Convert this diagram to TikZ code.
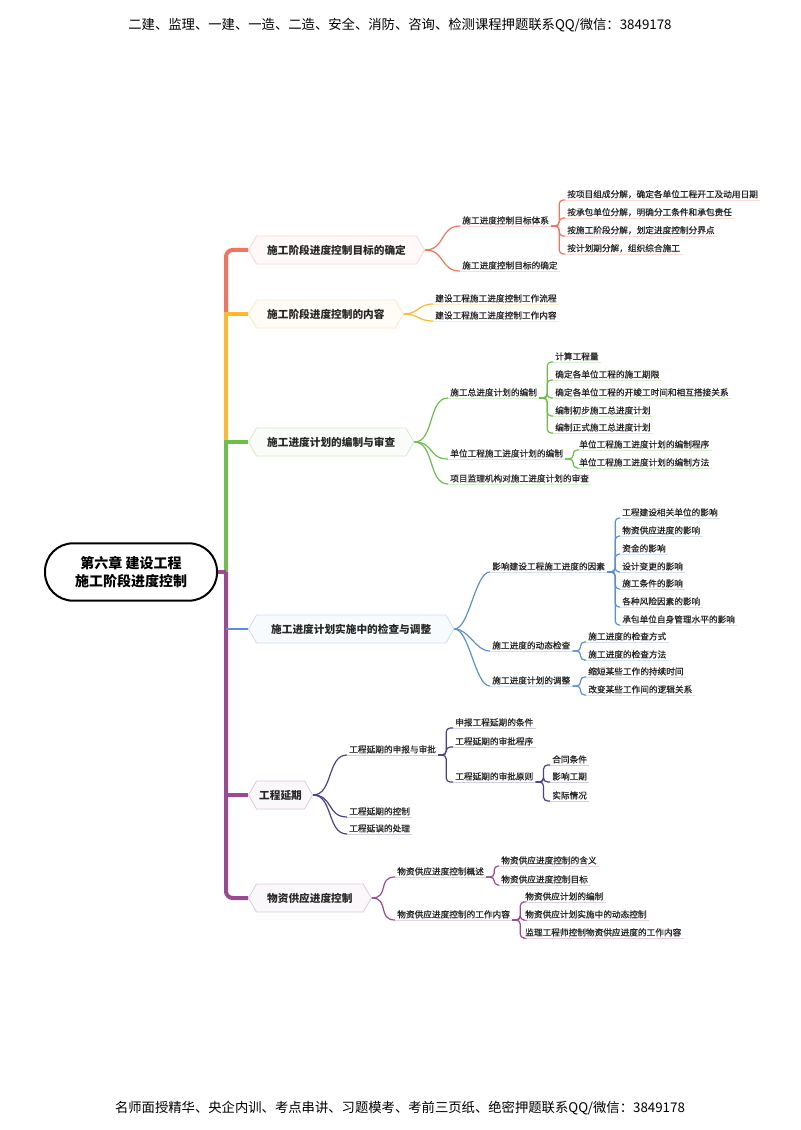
\documentclass[tikz,border=0pt]{standalone}
\usepackage{fontspec}
\setmainfont{Noto Sans CJK SC}
\newfontfamily\leaffont[FakeBold=0.6]{Noto Sans CJK SC}
\usetikzlibrary{shapes.symbols,calc}
\definecolor{cRed}{HTML}{F4735F}
\definecolor{cOrange}{HTML}{FDB92B}
\definecolor{cGreen}{HTML}{6CBF48}
\definecolor{cBlue}{HTML}{5C8FD5}
\definecolor{cIndigo}{HTML}{4D3F8F}
\definecolor{cPurple}{HTML}{9A4A91}

\begin{document}
\begin{tikzpicture}[x=0.75pt, y=-0.75pt,
    topic/.style={signal, signal to=west and east, signal pointer angle=120, draw=#1!30, fill=#1!4, line width=0.6pt, minimum height=21pt, inner xsep=8pt, anchor=west, font=\bfseries\fontsize{8}{10}\selectfont, text=black!85},
    leaf/.style={anchor=south west, inner xsep=1.5pt, inner ysep=1pt, font=\leaffont\fontsize{6.5}{8}\selectfont, text=black!85},
    trunk/.style={line width=3pt},
    link/.style={line width=0.9pt},
    bracket/.style={line width=0.9pt, rounded corners=3pt},
    uline/.style={line width=0.6pt}
]
\fill[white] (0,0) rectangle (800,1130);
\useasboundingbox (0,0) rectangle (800,1130);

\node[font=\fontsize{10}{12}\selectfont] (head) at (400,25) {二建、监理、一建、一造、二造、安全、消防、咨询、检测课程押题联系QQ/微信：3849178};
\node[font=\fontsize{10}{12}\selectfont] (foot) at (400,1108) {名师面授精华、央企内训、考点串讲、习题模考、考前三页纸、绝密押题联系QQ/微信：3849178};

\node[draw, line width=1.5pt, rounded corners=21pt, minimum width=129pt, minimum height=43pt, align=center, font=\bfseries\fontsize{10.5}{14}\selectfont] (root) at (131,572) {第六章 建设工程\\施工阶段进度控制};

\node[topic=cRed] (goal) at (248,250) {施工阶段进度控制目标的确定};
\node[topic=cOrange] (cont) at (248,314) {施工阶段进度控制的内容};
\node[topic=cGreen] (plan) at (248,442) {施工进度计划的编制与审查};
\node[topic=cBlue, inner xsep=11pt] (chk) at (248,629) {施工进度计划实施中的检查与调整};
\node[topic=cPurple, inner xsep=2pt] (ext) at (248,795) {工程延期};
\node[topic=cPurple] (sup) at (248,898) {物资供应进度控制};

\coordinate (j) at (226,572);
\draw[trunk, cRed, rounded corners=5pt] (goal.west) -| (j |- cont.west);
\draw[trunk, cOrange] (cont.west) -| (j |- plan.west);
\draw[trunk, cGreen] (plan.west) -| (j);
\draw[trunk, cPurple] (root.east) -- (j);
\draw[trunk, cPurple, rounded corners=5pt] (j) |- (sup.west);
\draw[trunk, cPurple] (j |- ext.west) -- (ext.west);
\draw[link, cBlue, line width=1.5pt] (j |- chk.west) -- (chk.west);

\node[leaf] (goal1) at (460,226) {施工进度控制目标体系};
\node[leaf] (goal2) at (460,271) {施工进度控制目标的确定};
\node[leaf] (goal11) at (565,200) {按项目组成分解，确定各单位工程开工及动用日期};
\node[leaf] (goal12) at (565,218) {按承包单位分解，明确分工条件和承包责任};
\node[leaf] (goal13) at (565,236) {按施工阶段分解，划定进度控制分界点};
\node[leaf] (goal14) at (565,254) {按计划期分解，组织综合施工};

\node[leaf] (cont1) at (433,304) {建设工程施工进度控制工作流程};
\node[leaf] (cont2) at (433,321) {建设工程施工进度控制工作内容};

\node[leaf] (plan1) at (448,398) {施工总进度计划的编制};
\node[leaf] (plan2) at (448,459) {单位工程施工进度计划的编制};
\node[leaf] (plan3) at (448,484) {项目监理机构对施工进度计划的审查};
\node[leaf] (plan11) at (553,362) {计算工程量};
\node[leaf] (plan12) at (553,380) {确定各单位工程的施工期限};
\node[leaf] (plan13) at (553,398) {确定各单位工程的开竣工时间和相互搭接关系};
\node[leaf] (plan14) at (553,416) {编制初步施工总进度计划};
\node[leaf] (plan15) at (553,433) {编制正式施工总进度计划};
\node[leaf] (plan21) at (577,450) {单位工程施工进度计划的编制程序};
\node[leaf] (plan22) at (577,468) {单位工程施工进度计划的编制方法};

\node[leaf] (chk1) at (490,572) {影响建设工程施工进度的因素};
\node[leaf] (chk2) at (490,651) {施工进度的动态检查};
\node[leaf] (chk3) at (490,686) {施工进度计划的调整};
\node[leaf] (chk11) at (620,518) {工程建设相关单位的影响};
\node[leaf] (chk12) at (620,536) {物资供应进度的影响};
\node[leaf] (chk13) at (620,554) {资金的影响};
\node[leaf] (chk14) at (620,572) {设计变更的影响};
\node[leaf] (chk15) at (620,589) {施工条件的影响};
\node[leaf] (chk16) at (620,607) {各种风险因素的影响};
\node[leaf] (chk17) at (620,625) {承包单位自身管理水平的影响};
\node[leaf] (chk21) at (586,642) {施工进度的检查方式};
\node[leaf] (chk22) at (586,660) {施工进度的检查方法};
\node[leaf] (chk31) at (586,677) {缩短某些工作的持续时间};
\node[leaf] (chk32) at (586,695) {改变某些工作间的逻辑关系};

\node[leaf] (ext1) at (347,755) {工程延期的申报与审批};
\node[leaf] (ext2) at (347,817) {工程延期的控制};
\node[leaf] (ext3) at (347,834) {工程延误的处理};
\node[leaf] (ext11) at (453,728) {申报工程延期的条件};
\node[leaf] (ext12) at (453,747) {工程延期的审批程序};
\node[leaf] (ext13) at (453,782) {工程延期的审批原则};
\node[leaf] (ext131) at (550,765) {合同条件};
\node[leaf] (ext132) at (550,782) {影响工期};
\node[leaf] (ext133) at (550,801) {实际情况};

\node[leaf] (sup1) at (395,877) {物资供应进度控制概述};
\node[leaf] (sup2) at (395,920) {物资供应进度控制的工作内容};
\node[leaf] (sup11) at (499,866) {物资供应进度控制的含义};
\node[leaf] (sup12) at (499,885) {物资供应进度控制目标};
\node[leaf] (sup21) at (523,902) {物资供应计划的编制};
\node[leaf] (sup22) at (523,920) {物资供应计划实施中的动态控制};
\node[leaf] (sup23) at (523,938) {监理工程师控制物资供应进度的工作内容};

\foreach \n in {goal1,goal2,goal11,goal12,goal13,goal14}
  \draw[uline, cRed!25] (\n.south west) -- (\n.south east);
\foreach \n in {cont1,cont2}
  \draw[uline, cOrange!25] (\n.south west) -- (\n.south east);
\foreach \n in {plan1,plan2,plan3,plan11,plan12,plan13,plan14,plan15,plan21,plan22}
  \draw[uline, cGreen!25] (\n.south west) -- (\n.south east);
\foreach \n in {chk1,chk2,chk3,chk11,chk12,chk13,chk14,chk15,chk16,chk17,chk21,chk22,chk31,chk32}
  \draw[uline, cBlue!25] (\n.south west) -- (\n.south east);
\foreach \n in {ext1,ext2,ext3,ext11,ext12,ext13,ext131,ext132,ext133}
  \draw[uline, cIndigo!25] (\n.south west) -- (\n.south east);
\foreach \n in {sup1,sup2,sup11,sup12,sup21,sup22,sup23}
  \draw[uline, cPurple!25] (\n.south west) -- (\n.south east);

\foreach \a/\b in {goal/goal1,goal/goal2}
  \draw[link, cRed] (\a.east) .. controls +(20,0) and +(-20,0) .. (\b.south west);
\foreach \a/\b in {cont/cont1,cont/cont2}
  \draw[link, cOrange] (\a.east) .. controls +(15,0) and +(-15,0) .. (\b.south west);
\foreach \a/\b in {plan/plan1,plan/plan2,plan/plan3}
  \draw[link, cGreen] (\a.east) .. controls +(20,0) and +(-20,0) .. (\b.south west);
\foreach \a/\b in {chk/chk1,chk/chk2,chk/chk3}
  \draw[link, cBlue] (\a.east) .. controls +(15,0) and +(-15,0) .. (\b.south west);
\foreach \a/\b in {ext/ext1,ext/ext2,ext/ext3}
  \draw[link, cIndigo] (\a.east) .. controls +(20,0) and +(-20,0) .. (\b.south west);
\foreach \a/\b in {sup/sup1,sup/sup2}
  \draw[link, cPurple] (\a.east) .. controls +(18,0) and +(-18,0) .. (\b.south west);

\foreach \c in {goal11,goal12,goal13,goal14}
  \draw[bracket, cRed] (goal1.south east) -- ++(8,0) |- (\c.south west);
\foreach \c in {plan11,plan12,plan13,plan14,plan15}
  \draw[bracket, cGreen] (plan1.south east) -- ++(8,0) |- (\c.south west);
\foreach \c in {plan21,plan22}
  \draw[bracket, cGreen] (plan2.south east) -- ++(8,0) |- (\c.south west);
\foreach \c in {chk11,chk12,chk13,chk14,chk15,chk16,chk17}
  \draw[bracket, cBlue] (chk1.south east) -- ++(8,0) |- (\c.south west);
\foreach \c in {chk21,chk22}
  \draw[bracket, cBlue] (chk2.south east) -- ++(8,0) |- (\c.south west);
\foreach \c in {chk31,chk32}
  \draw[bracket, cBlue] (chk3.south east) -- ++(8,0) |- (\c.south west);
\foreach \c in {ext11,ext12,ext13}
  \draw[bracket, cIndigo] (ext1.south east) -- ++(8,0) |- (\c.south west);
\foreach \c in {ext131,ext132,ext133}
  \draw[bracket, cIndigo] (ext13.south east) -- ++(8,0) |- (\c.south west);
\foreach \c in {sup11,sup12}
  \draw[bracket, cPurple] (sup1.south east) -- ++(8,0) |- (\c.south west);
\foreach \c in {sup21,sup22,sup23}
  \draw[bracket, cPurple] (sup2.south east) -- ++(8,0) |- (\c.south west);
\end{tikzpicture}
\end{document}
